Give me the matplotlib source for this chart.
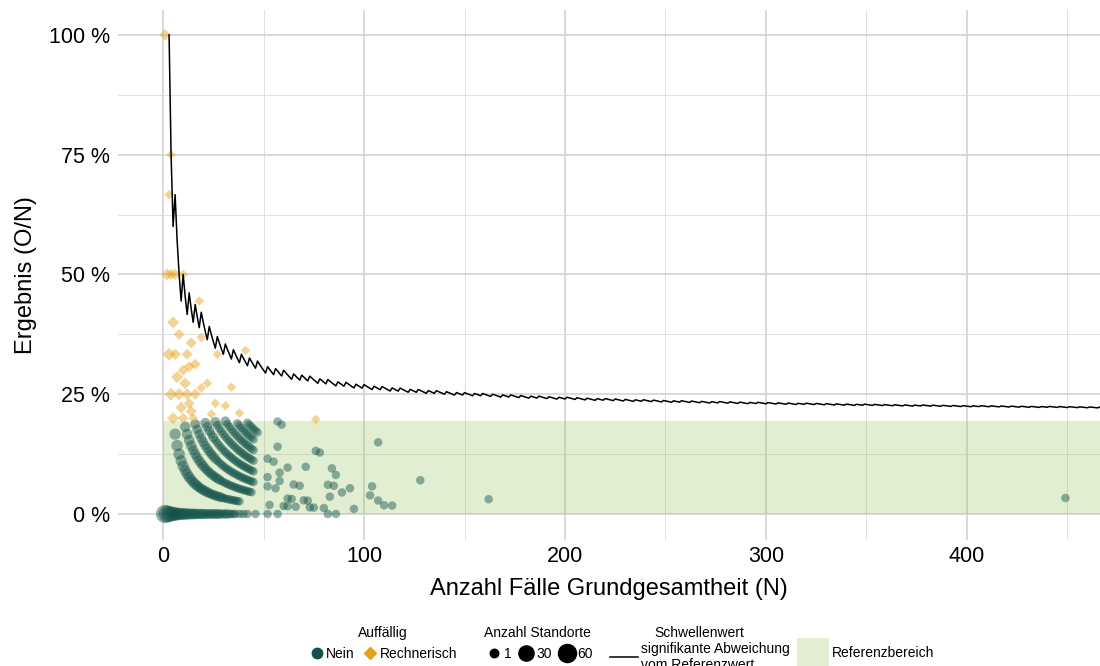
import numpy as np
import matplotlib
matplotlib.use("Agg")
import matplotlib.pyplot as plt
from matplotlib.lines import Line2D
from matplotlib.patches import Patch

plt.rcParams["font.family"] = ["Liberation Sans", "DejaVu Sans"]

#####################################
# Daten
#####################################

# Referenzbereich (Ergebnis in %)
referenzwert = 19.4

# Schwellenwert: Anzahl O ab der eine Abweichung signifikant ist
# Start bei N = 3 mit O = 3, danach steigt O um 1 an jedem dieser N
schwelle_start_n = 3
schwelle_start_o = 3
schwelle_sprung_n = [6, 10, 13, 16, 19, 23, 27, 31, 35, 39, 43, 47, 52, 56, 60, 65, 69, 73,
                     78, 82, 87, 91, 96, 100, 105, 109, 114, 118, 123, 127, 132, 136, 141, 146,
                     150, 155, 159, 164, 169, 173, 178, 183, 187, 192, 197, 201, 206, 211, 216,
                     220, 225, 230, 235, 239, 244, 249, 254, 258, 263, 268, 273, 277, 282, 287,
                     292, 296, 301, 306, 311, 316, 320, 325, 330, 335, 340, 345, 349, 354, 359,
                     364, 369, 374, 378, 383, 388, 393, 398, 403, 407, 412, 417, 422, 427, 432,
                     437, 441, 446, 451, 456, 461, 466]
schwelle_ende_n = 466

# Auffällig: Nein - Standorte mit O Ereignissen; Anzahl Standorte je N ab Start-N
nein_o0_start, nein_o0_anzahl = 1, [62, 48, 36, 28, 22, 17, 14, 11, 9, 8, 7, 6, 5, 5, 4, 4, 3, 3,
                                    3, 3, 2, 2, 2, 2, 2, 2, 2, 2, 1, 2, 1, 2, 1, 1, 1, 1]
nein_o1_start, nein_o1_anzahl = 6, [6, 7, 7, 6, 6, 5, 5, 5, 4, 4, 4, 4, 3, 3, 3, 3, 3, 2, 2, 2,
                                    2, 2, 2, 2, 1, 1, 1, 1, 1, 1, 1, 1, 1]
nein_o2_start, nein_o2_anzahl = 11, [3, 4, 4, 4, 3, 3, 3, 3, 3, 3, 2, 2, 2, 2, 2, 2, 2, 2, 1, 1,
                                     1, 1, 1, 1, 1, 1, 1, 1, 1, 1, 1, 1, 1, 1]
nein_o3_start, nein_o3_anzahl = 16, [2, 2, 2, 2, 2, 2, 2, 2, 2, 2, 2, 1, 1, 1, 1, 1, 1, 1, 1, 1,
                                     1, 1, 1, 1, 1, 1, 1, 1, 1, 1]
nein_o4_start, nein_o4_anzahl = 21, [2, 2, 2, 1, 2, 1, 1, 1, 1, 1, 1, 1, 1, 1, 1, 1, 1, 1, 1, 1,
                                     1, 1, 1, 1, 1]
nein_o5_start, nein_o5_anzahl = 26, [2, 1, 1, 1, 1, 1, 1, 1, 1, 1, 1, 1, 1, 1, 1, 1, 1, 1, 1, 1]
nein_o6_start, nein_o6_anzahl = 31, [2, 1, 1, 1, 1, 1, 1, 1, 1, 1, 1, 1, 1, 1, 1]
nein_o7_start, nein_o7_anzahl = 37, [1, 1, 1, 1, 1, 1, 1, 1, 1]
nein_o8_start, nein_o8_anzahl = 42, [1, 1, 1, 1, 1, 1]

# einzelne Standorte (je 1), Auffällig: Nein
einzel_n = [38, 40, 42, 46, 52, 57, 82, 86,
            57, 59, 57, 76, 78, 107, 52, 55, 62, 71, 84, 86, 58, 52, 58, 65, 68, 82, 85, 93,
            52, 56, 89, 83, 62, 64, 70, 72, 53, 60, 62, 66, 73, 75, 80, 95, 104, 103, 107,
            110, 114, 128, 162, 449]
einzel_o = [0, 0, 0, 0, 0, 0, 0, 0,
            11, 11, 8, 10, 10, 16, 6, 6, 6, 7, 8, 7, 5, 4, 4, 4, 4, 5, 5, 5,
            3, 3, 4, 3, 2, 2, 2, 2, 1, 1, 1, 1, 1, 1, 1, 1, 6, 4, 3,
            2, 2, 9, 5, 15]

# Auffällig: Rechnerisch
rechn_n = [1, 4, 3, 2, 4, 6, 10, 18, 5, 8, 19, 14, 3, 6, 12, 41, 27, 10, 16, 13, 7, 11, 22, 19, 34,
           4, 8, 12, 16, 26, 31, 38, 13, 14, 9, 24, 5, 10, 15, 76]
rechn_o = [1, 3, 2, 1, 2, 3, 5, 8, 2, 3, 7, 5, 1, 2, 4, 14, 9, 3, 5, 4, 2, 3, 6, 5, 9,
           1, 2, 3, 4, 6, 7, 8, 3, 3, 2, 5, 1, 2, 3, 15]
rechn_anzahl = [3, 1, 1, 4, 2, 2, 1, 1, 4, 2, 1, 2, 7, 3, 2, 1, 1, 2, 2, 2, 4, 3, 1, 1, 1,
                6, 4, 3, 2, 1, 1, 1, 2, 2, 3, 1, 4, 2, 1, 1]

# Legende Anzahl Standorte
groessen_legende = [1, 30, 60]

#####################################
# Aufbereitung
#####################################

TEAL = "#12524b"
ORANGE = "#e6a117"
GRUEN = "#96c35a"


def durchmesser(anzahl):
    # Durchmesser in Pixel, Fläche wächst mit der Anzahl
    return 8.5 + 10 * np.sqrt((np.asarray(anzahl, float) - 1) / 64)


def flaeche(anzahl, faktor=1.0):
    return (durchmesser(anzahl) * 0.72 * faktor) ** 2


gn, go, ga = [], [], []
for o, start, anz in [(0, nein_o0_start, nein_o0_anzahl), (1, nein_o1_start, nein_o1_anzahl),
                      (2, nein_o2_start, nein_o2_anzahl), (3, nein_o3_start, nein_o3_anzahl),
                      (4, nein_o4_start, nein_o4_anzahl), (5, nein_o5_start, nein_o5_anzahl),
                      (6, nein_o6_start, nein_o6_anzahl), (7, nein_o7_start, nein_o7_anzahl),
                      (8, nein_o8_start, nein_o8_anzahl)]:
    for i, a in enumerate(anz):
        if a > 0:
            gn.append(start + i)
            go.append(o)
            ga.append(a)
gn = np.array(gn + einzel_n)
go = np.array(go + einzel_o)
ga = np.array(ga + [1] * len(einzel_n))

schwelle_n = np.arange(schwelle_start_n, schwelle_ende_n + 1)
schwelle_o = schwelle_start_o + np.searchsorted(schwelle_sprung_n, schwelle_n, side="right")
schwelle_wert = schwelle_o / schwelle_n * 100

#####################################
# Plot
#####################################

fig = plt.figure(figsize=(11, 6.66), dpi=100)
ax = fig.add_axes([0.1073, 0.1892, 0.8927, 0.7958])
ax.set_xlim(-22.4, 466.2)
ax.set_ylim(-5.43, 105.2)
ax.set_axisbelow(True)

ax.set_xticks([0, 100, 200, 300, 400])
ax.set_xticks([50, 150, 250, 350, 450], minor=True)
ax.set_yticks([0, 25, 50, 75, 100])
ax.set_yticks([12.5, 37.5, 62.5, 87.5], minor=True)
ax.set_yticklabels(["0 %", "25 %", "50 %", "75 %", "100 %"])
ax.grid(which="major", color="#d0d0d0", lw=1.1)
ax.grid(which="minor", color="#dcdcdc", lw=0.6)
ax.tick_params(which="both", length=0, labelsize=15.5, labelcolor="black")
ax.tick_params(axis="x", pad=4)
ax.tick_params(axis="y", pad=6)
for s in ax.spines.values():
    s.set_visible(False)

ax.add_patch(plt.Rectangle((0, 0), 500, referenzwert, color=GRUEN, alpha=0.28, lw=0, zorder=1))

# große Punkte zuerst, damit kleine sichtbar bleiben
ordnung = np.argsort(-ga, kind="stable")
ax.scatter(gn[ordnung], go[ordnung] / gn[ordnung] * 100, s=flaeche(ga[ordnung]), color=TEAL,
           alpha=0.45, lw=0, zorder=3)
rn = np.array(rechn_n)
ro = np.array(rechn_o)
ax.scatter(rn, ro / rn * 100, s=flaeche(rechn_anzahl, 0.8), marker="D", color=ORANGE,
           alpha=0.45, lw=0, zorder=3)

ax.plot(schwelle_n, schwelle_wert, color="black", lw=1.1, zorder=4)

ax.set_xlabel("Anzahl Fälle Grundgesamtheit (N)", fontsize=17, labelpad=8)
ax.set_ylabel("Ergebnis (O/N)", fontsize=17, labelpad=8)

# Legenden unten
leg_kw = dict(frameon=False, fontsize=10, title_fontsize=10, borderpad=0, loc="upper center")
fig.legend(handles=[Line2D([], [], ls="", marker="o", ms=7.5, color=TEAL),
                    Line2D([], [], ls="", marker="D", ms=6, color=ORANGE)],
           labels=["Nein", "Rechnerisch"], title="Auffällig", ncol=2,
           bbox_to_anchor=(0.348, 0.07), handletextpad=0.1, columnspacing=0.5,
           handlelength=1.2, **leg_kw)
fig.legend(handles=[Line2D([], [], ls="", marker="o", ms=durchmesser(g) * 0.72, color="black")
                    for g in groessen_legende],
           labels=[str(g) for g in groessen_legende], title="Anzahl Standorte", ncol=3,
           bbox_to_anchor=(0.489, 0.07), handletextpad=0.0, columnspacing=0.3,
           handlelength=1.5, **leg_kw)
fig.legend(handles=[Line2D([], [], color="black", lw=1.1)],
           labels=["signifikante Abweichung\nvom Referenzwert"], title="Schwellenwert",
           bbox_to_anchor=(0.636, 0.07), handletextpad=0.2, handlelength=2.0,
           labelspacing=0.1, **leg_kw)
fig.legend(handles=[Patch(color=GRUEN, alpha=0.28, lw=0)], labels=["Referenzbereich"],
           bbox_to_anchor=(0.787, 0.053), handletextpad=0.2, handlelength=2.3,
           handleheight=2.9, **leg_kw)

fig.savefig("out.png", dpi=100)
